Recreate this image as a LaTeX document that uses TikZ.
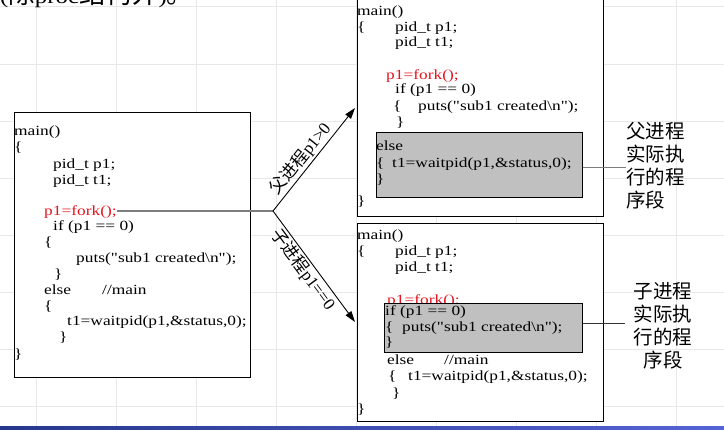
\documentclass[tikz,border=0pt]{standalone}
\usepackage{fontspec}
\setmainfont{Liberation Serif}
\newfontfamily\codefont[FakeStretch=1.24]{Liberation Serif}
\newfontfamily\cjk{Noto Sans CJK SC}
\usetikzlibrary{arrows.meta}

\definecolor{gridline}{RGB}{232,232,232}
\definecolor{forkred}{RGB}{230,20,30}
\definecolor{shadebox}{RGB}{192,192,192}
\definecolor{linkgray}{RGB}{125,125,125}
\definecolor{bardark}{RGB}{38,56,140}
\definecolor{barlight}{RGB}{84,100,212}

\tikzset{
  code/.style={anchor=base west, inner sep=0pt, font=\codefont\fontsize{14}{16}\selectfont},
  redcode/.style={code, text=forkred},
  frame/.style={draw=black, line width=1pt, fill=white, anchor=north west, inner sep=0pt},
  shaded/.style={draw=black, line width=0.8pt, fill=shadebox, anchor=north west, inner sep=0pt},
  branch/.style={draw=black, line width=0.9pt, -{Triangle[length=11pt,width=7pt]}},
  note/.style={inner sep=0pt, font=\cjk\fontsize{19.5}{23}\selectfont},
  slopelabel/.style={sloped, inner sep=1.5pt, font=\fontsize{17}{17}\selectfont}
}

\begin{document}
\begin{tikzpicture}[x=1pt,y=-1pt]
\useasboundingbox (0,0) rectangle (724,430);
\clip (0,0) rectangle (724,430);

% slide background grid
\foreach \gx in {36,116,...,676} \draw[gridline, line width=1pt] (\gx,0) -- (\gx,430);
\foreach \i in {0,...,7} \draw[gridline, line width=1pt] (0,{7+57.14*\i}) -- (724,{7+57.14*\i});

% heading line running off the top edge
\node[anchor=base west, inner sep=0pt] (heading) at (0,3.5)
  {\codefont\fontsize{20}{20}\selectfont(\cjk\fontsize{26.5}{26.5}\selectfont 除\codefont\fontsize{20}{20}\selectfont proc\cjk\fontsize{26.5}{26.5}\selectfont 结构外\codefont\fontsize{20}{20}\selectfont)\cjk\fontsize{26.5}{26.5}\selectfont 。};

% ---------------- source program ----------------
\node[frame, minimum width=236pt, minimum height=265pt] (src) at (14,112) {};
\node[code] (s1)  at (14,136) {main()};
\node[code] (s2)  at (14,152) {\{};
\node[code] (s3)  at (53,169) {pid\_t p1;};
\node[code] (s4)  at (53,185) {pid\_t t1;};
\node[redcode] (sfork) at (44,216) {p1=fork();};
\node[code] (s6)  at (53,231) {if (p1 == 0)};
\node[code] (s7)  at (44,247) {\{};
\node[code] (s8)  at (76,263) {puts("sub1 created\textbackslash n");};
\node[code] (s9)  at (54,279) {\}};
\node[code] (s10) at (44,295) {\makebox[58pt][l]{else}//main};
\node[code] (s11) at (44,311) {\{};
\node[code] (s12) at (67,326) {t1=waitpid(p1,\&status,0);};
\node[code] (s13) at (59,342) {\}};
\node[code] (s14) at (14,359) {\}};

% ---------------- parent process ----------------
\node[frame, minimum width=246pt, minimum height=221pt] (par) at (357,-5) {};
\node[code] (p1)  at (357,16) {main()};
\node[code] (p2)  at (357,32) {\makebox[38pt][l]{\{}pid\_t p1;};
\node[code] (p3)  at (395,47) {pid\_t t1;};
\node[redcode] (pfork) at (386,80) {p1=fork();};
\node[code] (p5)  at (395,94) {if (p1 == 0)};
\node[code] (p6)  at (393,111) {\makebox[25pt][l]{\{}puts("sub1 created\textbackslash n");};
\node[code] (p7)  at (396,127) {\}};
\node[shaded, minimum width=206pt, minimum height=65pt] (pseg) at (376,132) {};
\node[code] (p8)  at (376,151) {else};
\node[code] (p9)  at (376,168) {\makebox[16pt][l]{\{}t1=waitpid(p1,\&status,0);};
\node[code] (p10) at (376,184) {\}};
\node[code] (p11) at (357,206) {\}};

% ---------------- child process ----------------
\node[frame, minimum width=246pt, minimum height=198pt] (chi) at (357,223) {};
\node[code] (c1)  at (357,240) {main()};
\node[code] (c2)  at (357,256) {\makebox[38pt][l]{\{}pid\_t p1;};
\node[code] (c3)  at (395,272) {pid\_t t1;};
\node[redcode] (cfork) at (387,305) {p1=fork();};
\node[shaded, minimum width=198pt, minimum height=49pt] (cseg) at (384,303) {};
\node[code] (c5)  at (385,316) {if (p1 == 0)};
\node[code] (c6)  at (385,332) {\makebox[17pt][l]{\{}puts("sub1 created\textbackslash n");};
\node[code] (c7)  at (385,347) {\}};
\node[code] (c8)  at (387,365) {\makebox[57pt][l]{else}//main};
\node[code] (c9)  at (388,381) {\makebox[20pt][l]{\{}t1=waitpid(p1,\&status,0);};
\node[code] (c10) at (392,398) {\}};
\node[code] (c11) at (357,414) {\}};

% ---------------- fork branches ----------------
\coordinate (split) at (273,211);
\coordinate (ptip) at (355,108);
\coordinate (ctip) at (355,322);
\draw[linkgray, line width=2pt] (sfork.east |- split) -- (split);
\draw[branch] (split) -- (ptip)
  node[slopelabel, above, pos=0.44] (plab) {\cjk 父进程\normalfont p1>0};
\draw[branch] (split) -- (ctip)
  node[slopelabel, below, pos=0.47] (clab) {\cjk 子进程\normalfont p1==0};

% ---------------- segment notes ----------------
\node[note, anchor=north west, align=left] (pnote) at (626,122) {父进程\\实际执\\行的程\\序段};
\node[note, anchor=north, align=center] (cnote) at (663,282) {子进程\\实际执\\行的程\\序段};
\draw[linkgray, line width=1.5pt] ([yshift=-2.5pt]pseg.east) -- ([yshift=-2.5pt]pseg.east -| pnote.west);
\draw[black!80, line width=1pt] ([yshift=4.5pt]cseg.east) -- ++(42,0) coordinate (cend);

% footer band
\shade[left color=bardark, right color=barlight] (0,427) rectangle (724,430);
\end{tikzpicture}
\end{document}
